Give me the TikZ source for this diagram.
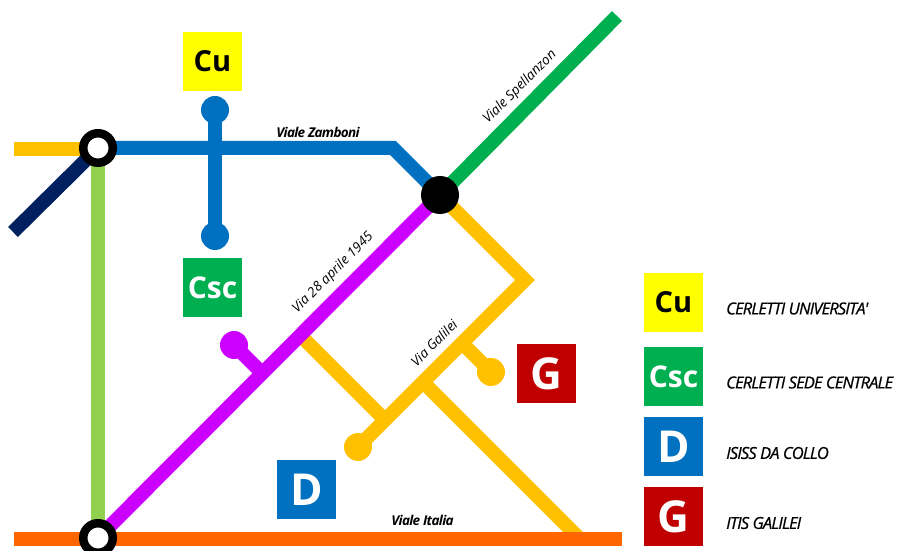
\documentclass[tikz,border=0pt]{standalone}
\usepackage{fontspec}
\setmainfont{Open Sans}
\newfontfamily\legendfont[LetterSpace=-5]{Open Sans}
\newfontfamily\keyfont[LetterSpace=-5.2, FakeBold=0.6]{Open Sans}
\usetikzlibrary{positioning}
\definecolor{cuyellow}{RGB}{255,255,0}
\definecolor{cscgreen}{RGB}{0,176,80}
\definecolor{dblue}{RGB}{0,112,192}
\definecolor{gred}{RGB}{192,0,0}
\definecolor{amber}{RGB}{255,192,0}
\definecolor{navy}{RGB}{0,32,96}
\definecolor{lightgreen}{RGB}{146,208,80}
\definecolor{violet}{RGB}{204,0,255}
\definecolor{roadorange}{RGB}{255,102,0}
\tikzset{
    road/.style={line width=14pt},
    stopdot/.style={circle, minimum size=28pt, inner sep=0pt, outer sep=0pt},
    ringhub/.style={circle, draw=black, fill=white, line width=8.5pt, minimum size=29.5pt, inner sep=0pt},
    blackhub/.style={circle, fill=black, minimum size=38pt, inner sep=0pt, outer sep=0pt},
    schoolbox/.style={minimum size=59pt, inner sep=0pt, outer sep=0pt, font=\fontsize{#1}{#1}\selectfont\bfseries},
    roadlabel/.style={font=\fontsize{13.5}{13.5}\selectfont\itshape, inner sep=0pt},
    boldlabel/.style={font=\fontsize{13.5}{13.5}\legendfont\selectfont\itshape\bfseries, inner sep=0pt},
    legendlabel/.style={font=\fontsize{16.5}{16.5}\keyfont\selectfont\itshape, inner sep=0pt, anchor=west}
}
\begin{document}
\begin{tikzpicture}
        \useasboundingbox (0pt, 0pt) rectangle (897pt, 551pt);
        % Junctions
        \coordinate (hubwest) at (98pt, 403pt);
        \coordinate (hubsouth) at (98pt, 13pt);
        \coordinate (hubeast) at (440pt, 356pt);
        \coordinate (amberend) at (14pt, 402pt);
        \coordinate (navyend) at (13pt, 319pt);
        \coordinate (bluebend) at (393pt, 403pt);
        \coordinate (greenend) at (617pt, 535pt);
        \coordinate (amberbend) at (525pt, 271pt);
        \coordinate (violetjoin) at (262.5pt, 177.5pt);
        \coordinate (gjoin) at (462pt, 208pt);
        \coordinate (italiajoin) at (423pt, 169pt);
        \coordinate (italiaend) at (579pt, 13pt);
        \coordinate (aprilejoin) at (300.5pt, 215.5pt);
        \coordinate (galileijoin) at (385pt, 131pt);
        \coordinate (orangewest) at (14pt, 12pt);
        \coordinate (orangeeast) at (622pt, 12pt);
        % Stops
        \node[stopdot, fill=dblue] (custop) at (215pt, 441pt) {};
        \node[stopdot, fill=dblue] (cscstop) at (215pt, 315pt) {};
        \node[stopdot, fill=violet] (violetstop) at (234pt, 206pt) {};
        \node[stopdot, fill=amber] (dstop) at (358pt, 104pt) {};
        \node[stopdot, fill=amber] (gstop) at (491pt, 179pt) {};
        % Lines
        \draw[road, amber] (amberend) -- (amberend -| hubwest);
        \draw[road, navy] (navyend) -- (hubwest);
        \draw[road, lightgreen] (hubwest) -- (hubsouth);
        \draw[road, dblue] (hubwest) -- (bluebend) -- (hubeast);
        \draw[road, dblue] (custop.center) -- (cscstop.center);
        \draw[road, cscgreen] (hubeast) -- (greenend);
        \draw[road, amber] (hubeast) -- (amberbend) -- (dstop.center);
        \draw[road, amber] (gjoin) -- (gstop.center);
        \draw[road, amber] (italiajoin) -- (italiaend);
        \draw[road, amber] (aprilejoin) -- (galileijoin);
        \draw[road, violet] (hubsouth) -- (hubeast);
        \draw[road, violet] (violetjoin) -- (violetstop.center);
        \draw[road, roadorange] (orangewest) -- (orangeeast);
        % Hubs
        \node[ringhub] (ringwest) at (hubwest) {};
        \node[ringhub] (ringsouth) at (hubsouth) {};
        \node[blackhub] (hubblack) at (hubeast) {};
        % Schools
        \node[schoolbox=29, fill=cuyellow, text=black] (cumap) at (212.5pt, 489.5pt) {Cu};
        \node[schoolbox=30, fill=cscgreen, text=white] (cscmap) at (212.5pt, 263.5pt) {Csc};
        \node[schoolbox=44, fill=dblue, text=white] (dmap) at (306.5pt, 61pt) {D};
        \node[schoolbox=44, fill=gred, text=white] (gmap) at (546.5pt, 177.5pt) {G};
        % Road names
        \node[boldlabel] (zamboni) at (318pt, 419pt) {Viale Zamboni};
        \node[boldlabel] (italia) at (422.5pt, 31pt) {Viale Italia};
        \node[roadlabel, rotate=45] (aprile) at (333pt, 278pt) {Via 28 aprile 1945};
        \node[roadlabel, rotate=45] (galilei) at (434pt, 208pt) {Via Galilei};
        \node[roadlabel, rotate=45] (spellanzon) at (520pt, 464pt) {Viale Spellanzon};
        % Legend
        \foreach \name/\y/\boxcol/\textcol/\boxsize/\abbr/\desc in {
            cu/248.5pt/cuyellow/black/29/Cu/CERLETTI UNIVERSITA',
            csc/174.5pt/cscgreen/white/30/Csc/CERLETTI SEDE CENTRALE,
            d/104pt/dblue/white/44/D/ISISS DA COLLO,
            g/34pt/gred/white/44/G/ITIS GALILEI} {
            \node[schoolbox=\boxsize, fill=\boxcol, text=\textcol] (\name key) at (673.5pt, \y) {\abbr};
            \node[legendlabel, right=23pt of \name key, yshift=-6pt] (\name text) {\desc};
        }
    \end{tikzpicture}
\end{document}
